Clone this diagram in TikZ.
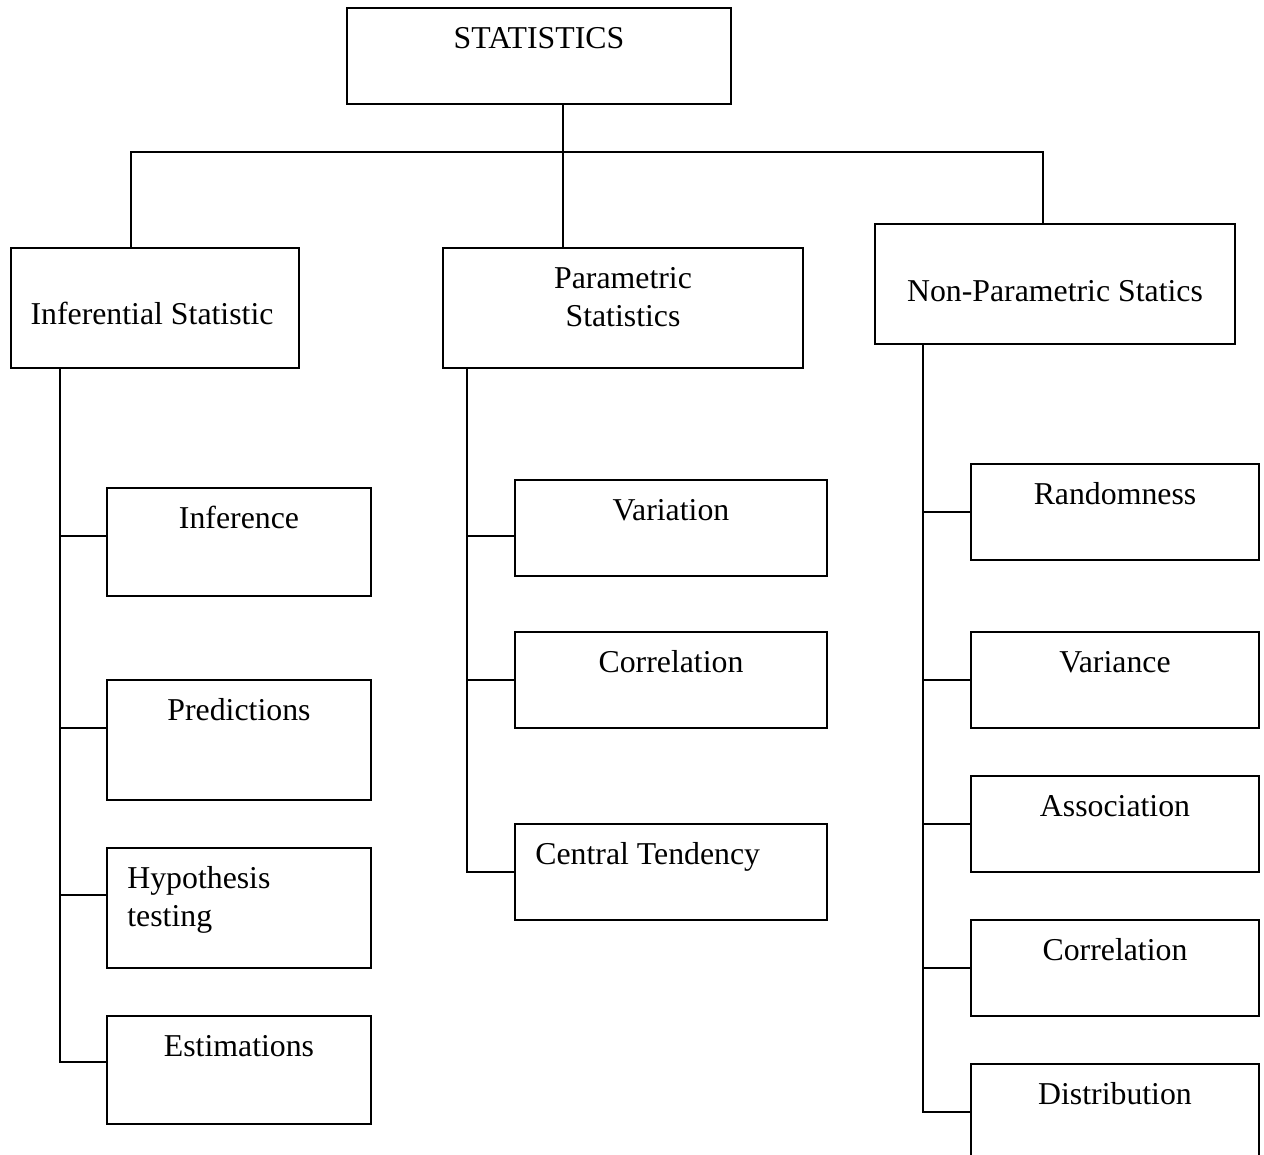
\documentclass[tikz,border=0pt]{standalone}
\usepackage{fontspec}
\setmainfont{Liberation Serif}
\usetikzlibrary{positioning,calc}

\begin{document}
\begin{tikzpicture}[x=0.02cm,y=-0.02cm,
    box/.style={draw,rectangle,line width=1.5pt,inner sep=0pt,outer sep=0pt,anchor=north west},
    txt/.style={font=\fontsize{18.1}{21.6}\selectfont,inner sep=0pt,anchor=base,align=center},
    link/.style={line width=1.5pt}]
        \def\u{0.02cm}
        \clip (0,0) rectangle (1264,1154);

        % top level
        \node[box,minimum width=384*\u,minimum height=96*\u] (stat) at (347,8) {};
        \node[txt] (statT) at ([shift={(0,40)}]stat.north) {STATISTICS};

        % second level
        \node[box,minimum width=288*\u,minimum height=120*\u] (inf) at (11,248) {};
        \node[txt] (infT) at ([shift={(-3,76)}]inf.north) {Inferential Statistic};
        \node[box,minimum width=360*\u,minimum height=120*\u] (par) at (443,248) {};
        \node[txt,anchor=north] (parT) at ([shift={(0,19)}]par.north) {Parametric\\Statistics};
        \node[box,minimum width=360*\u,minimum height=120*\u] (non) at (875,224) {};
        \node[txt] (nonT) at ([shift={(0,77)}]non.north) {Non-Parametric Statics};

        \coordinate (hub) at (563,152);
        \draw[link] (stat.south -| hub) -- (hub);
        \draw[link] ([shift={(-24,0)}]inf.north) |- (hub);
        \draw[link] ([shift={(-60,0)}]par.north) -- (hub);
        \draw[link] ([shift={(-12,0)}]non.north) |- (hub);

        % inferential branch
        \node[box,minimum width=264*\u,minimum height=108*\u] (infer) at (107,488) {};
        \node[txt] (inferT) at ([shift={(0,40)}]infer.north) {Inference};
        \node[box,minimum width=264*\u,minimum height=120*\u] (pred) at (107,680) {};
        \node[txt] (predT) at ([shift={(0,40)}]pred.north) {Predictions};
        \node[box,minimum width=264*\u,minimum height=120*\u] (hyp) at (107,848) {};
        \node[txt,anchor=north west,align=left] (hypT) at ([shift={(20,18)}]hyp.north west) {Hypothesis\\testing};
        \node[box,minimum width=264*\u,minimum height=108*\u] (est) at (107,1016) {};
        \node[txt] (estT) at ([shift={(0,40)}]est.north) {Estimations};

        \coordinate (lspine) at ([shift={(49,0)}]inf.south west);
        \foreach \c/\d in {infer/48,pred/48,hyp/47,est/46}
            \draw[link] ([shift={(0,\d)}]\c.north west) -| (lspine);

        % parametric branch
        \node[box,minimum width=312*\u,minimum height=96*\u] (vari) at (515,480) {};
        \node[txt] (variT) at ([shift={(0,40)}]vari.north) {Variation};
        \node[box,minimum width=312*\u,minimum height=96*\u] (pcor) at (515,632) {};
        \node[txt] (pcorT) at ([shift={(0,40)}]pcor.north) {Correlation};
        \node[box,minimum width=312*\u,minimum height=96*\u] (cent) at (515,824) {};
        \node[txt,anchor=base west] (centT) at ([shift={(20,40)}]cent.north west) {Central Tendency};

        \coordinate (mspine) at ([shift={(24,0)}]par.south west);
        \foreach \c/\d in {vari/56,pcor/48,cent/48}
            \draw[link] ([shift={(0,\d)}]\c.north west) -| (mspine);

        % non-parametric branch
        \node[box,minimum width=288*\u,minimum height=96*\u] (rand) at (971,464) {};
        \node[txt] (randT) at ([shift={(0,40)}]rand.north) {Randomness};
        \node[box,minimum width=288*\u,minimum height=96*\u] (vnce) at (971,632) {};
        \node[txt] (vnceT) at ([shift={(0,40)}]vnce.north) {Variance};
        \node[box,minimum width=288*\u,minimum height=96*\u] (assoc) at (971,776) {};
        \node[txt] (assocT) at ([shift={(0,40)}]assoc.north) {Association};
        \node[box,minimum width=288*\u,minimum height=96*\u] (ncor) at (971,920) {};
        \node[txt] (ncorT) at ([shift={(0,40)}]ncor.north) {Correlation};
        \node[box,minimum width=288*\u,minimum height=96*\u] (dist) at (971,1064) {};
        \node[txt] (distT) at ([shift={(0,40)}]dist.north) {Distribution};

        \coordinate (rspine) at ([shift={(48,0)}]non.south west);
        \foreach \c in {rand,vnce,assoc,ncor,dist}
            \draw[link] ([shift={(0,48)}]\c.north west) -| (rspine);
\end{tikzpicture}
\end{document}
